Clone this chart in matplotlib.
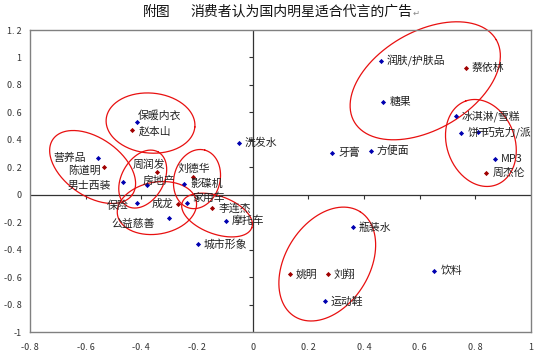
import numpy as np
import matplotlib
matplotlib.use("Agg")
import matplotlib.pyplot as plt

plt.rcParams['font.family'] = ['Noto Sans CJK SC', 'DejaVu Sans']

# Advertising categories (blue points)
ad_labels = ["润肤/护肤品", "糖果", "冰淇淋/雪糕", "饼干", "巧克力/派", "MP3", "牙膏", "方便面",
             "洗发水", "保暖内衣", "营养品", "男士西装", "房地产", "影碟机", "保险", "家用车",
             "公益慈善", "摩托车", "城市形象", "瓶装水", "运动鞋", "饮料"]
ad_x = [0.46, 0.47, 0.73, 0.75, 0.81, 0.87, 0.286, 0.425,
        -0.05, -0.416, -0.556, -0.466, -0.38, -0.247, -0.416, -0.236,
        -0.30, -0.096, -0.197, 0.36, 0.26, 0.653]
ad_y = [0.976, 0.677, 0.574, 0.45, 0.457, 0.26, 0.304, 0.32,
        0.377, 0.53, 0.27, 0.09, 0.07, 0.078, -0.06, -0.06,
        -0.17, -0.19, -0.36, -0.236, -0.776, -0.557]

# Celebrities (red points)
star_labels = ["蔡依林", "周杰伦", "赵本山", "陈道明", "周润发", "刘德华", "成龙", "李连杰", "姚明", "刘翔"]
star_x = [0.765, 0.84, -0.434, -0.535, -0.344, -0.214, -0.27, -0.146, 0.134, 0.27]
star_y = [0.925, 0.158, 0.47, 0.20, 0.165, 0.13, -0.068, -0.097, -0.58, -0.58]

# Hand-drawn grouping ellipses: centre (data), semi-axes (px), angle (deg)
ell_cx = [0.62, 0.82, 0.268, -0.367, -0.575, -0.395, -0.344, -0.200, -0.128]
ell_cy = [0.83, 0.377, -0.505, 0.522, 0.202, 0.114, -0.097, 0.114, -0.148]
ell_a = [82, 44.6, 61.8, 44.5, 48.4, 31.2, 40, 30, 37]
ell_b = [49, 34, 42, 30, 28.9, 21, 26, 23, 19]
ell_ang = [30, 110, 58, -5, -35, 60, 10, 75, -20]

xticks = [-0.8, -0.6, -0.4, -0.2, 0, 0.2, 0.4, 0.6, 0.8, 1]
yticks = [1.2, 1, 0.8, 0.6, 0.4, 0.2, 0, -0.2, -0.4, -0.6, -0.8, -1]

# label placement (pixel offsets, alignment); default: right of point
label_pos = {
    "营养品": (-12, 0, "right"),
    "陈道明": (-3, -3, "right"),
    "男士西装": (-12, -4, "right"),
    "周润发": (-8, 7, "center"),
    "房地产": (-4, 4, "left"),
    "刘德华": (1, 8, "center"),
    "影碟机": (6, 0, "left"),
    "保险": (-8, -3, "right"),
    "成龙": (-4, 0, "right"),
    "家用车": (5, 5, "left"),
    "李连杰": (7, 0, "left"),
    "公益慈善": (-14, -6, "right"),
    "保暖内衣": (1, 7, "left"),
    "赵本山": (7, -1, "left"),
}


def fmt(v):
    if abs(v) < 1e-9:
        return "0"
    if abs(v - round(v)) < 1e-9:
        return "%d" % round(v)
    return ("%.1f" % v).replace(".", ". ")


fig = plt.figure(figsize=(5.39, 3.58), dpi=100)
ax = fig.add_axes([30 / 539, 1 - 332 / 358, 501 / 539, 302 / 358])
ax.set_xlim(-0.8, 1)
ax.set_ylim(-1, 1.2)
for s in ax.spines.values():
    s.set_color("#808080")
    s.set_linewidth(1)
ax.set_xticks(xticks)
ax.set_yticks(yticks)
ax.set_xticklabels([fmt(v) for v in xticks], fontsize=6.5, color="#333333")
ax.set_yticklabels([fmt(v) for v in yticks], fontsize=6.5, color="#333333")
ax.tick_params(axis="x", length=0, pad=8)
ax.tick_params(axis="y", length=0, pad=6)

# zero axes with tick marks
ax.axhline(0, color="#333333", lw=0.9, zorder=1)
ax.axvline(0, color="#333333", lw=0.9, zorder=1)
ax.plot(xticks[1:-1], [0] * len(xticks[1:-1]), ls="none", marker=3, ms=3,
        color="#333333", mew=0.8, zorder=1)
ax.plot([0] * len(yticks[1:-1]), yticks[1:-1], ls="none", marker=0, ms=3,
        color="#333333", mew=0.8, zorder=1)

ax.scatter(ad_x, ad_y, marker="D", s=7, color="#0000B0", zorder=3, linewidths=0)
ax.scatter(star_x, star_y, marker="D", s=7, color="#A00000", zorder=3, linewidths=0)

for lab, x, y in zip(ad_labels + star_labels, ad_x + star_x, ad_y + star_y):
    dx, dy, ha = label_pos.get(lab, (6, 0, "left"))
    ax.annotate(lab, (x, y), xytext=(dx, dy), textcoords="offset pixels",
                fontsize=7.8, va="center", ha=ha, color="#222222", zorder=4)

fig.canvas.draw()
t = np.linspace(0, 2 * np.pi, 200)
inv = ax.transData.inverted()
for cx, cy, a, b, ang in zip(ell_cx, ell_cy, ell_a, ell_b, ell_ang):
    th = np.deg2rad(ang)
    px0, py0 = ax.transData.transform((cx, cy))
    dx = a * np.cos(t) * np.cos(th) - b * np.sin(t) * np.sin(th)
    dy = a * np.cos(t) * np.sin(th) + b * np.sin(t) * np.cos(th)
    pts = inv.transform(np.column_stack([px0 + dx, py0 + dy]))
    ax.plot(pts[:, 0], pts[:, 1], color="#E81010", lw=0.9, clip_on=False, zorder=2)

fig.text(157 / 539, 1 - 12 / 358, "附图", ha="center", va="center",
         fontsize=10, color="#111111")
fig.text(190 / 539, 1 - 12 / 358, "消费者认为国内明星适合代言的广告",
         ha="left", va="center", fontsize=10, color="#111111")
fig.text(416 / 539, 1 - 13 / 358, "↵", ha="center", va="center", fontsize=6,
         color="#888888", family="DejaVu Sans")

fig.savefig("out.png", dpi=100)
